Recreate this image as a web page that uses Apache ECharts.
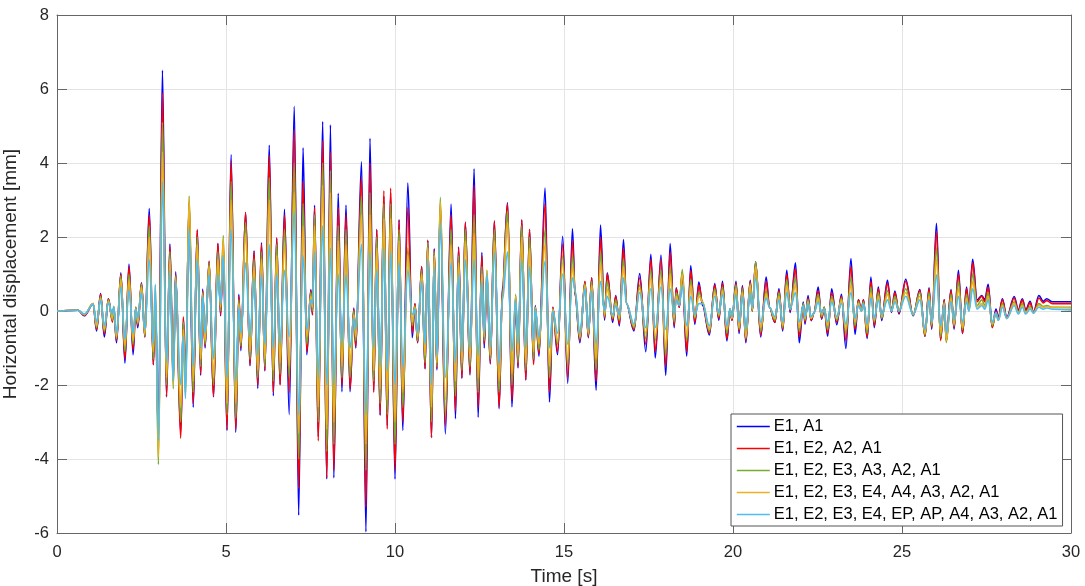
<!DOCTYPE html>
<html>
<head>
<meta charset="utf-8">
<script src="https://cdn.jsdelivr.net/npm/echarts@6/dist/echarts.min.js"></script>
<style>html,body{margin:0;padding:0;background:#fff}#c{width:1085px;height:586px}</style>
</head>
<body>
<div id="c"></div>
<script>
// Times (s) of the turning points
const time = [0.00,0.62,0.81,1.07,1.17,1.29,1.40,1.52,1.64,1.68,1.76,1.89,2.01,2.13,2.25,2.33,2.39,2.50,2.60,2.73,2.85,2.91,3.00,3.12,3.24,3.34,3.44,3.51,3.66,3.74,3.80,3.91,4.03,4.15,4.25,4.31,4.38,4.50,4.63,4.76,4.84,4.92,5.03,5.15,5.29,5.38,5.44,5.58,5.71,5.83,5.94,6.05,6.15,6.28,6.40,6.50,6.60,6.73,6.87,7.02,7.15,7.28,7.39,7.51,7.56,7.62,7.73,7.86,7.98,8.09,8.19,8.32,8.43,8.55,8.67,8.78,8.84,9.01,9.14,9.26,9.37,9.46,9.56,9.67,9.77,9.87,10.00,10.12,10.23,10.38,10.51,10.59,10.67,10.79,10.89,10.97,11.08,11.16,11.24,11.34,11.49,11.66,11.79,11.88,11.98,12.08,12.22,12.34,12.46,12.57,12.64,12.72,12.82,12.94,13.08,13.18,13.33,13.46,13.57,13.64,13.75,13.87,13.98,14.10,14.15,14.26,14.44,14.57,14.67,14.81,14.96,15.11,15.25,15.33,15.47,15.62,15.72,15.82,15.95,16.08,16.20,16.28,16.44,16.53,16.64,16.76,16.85,17.07,17.24,17.42,17.57,17.70,17.87,18.01,18.14,18.26,18.32,18.41,18.50,18.63,18.75,18.87,18.99,19.10,19.30,19.46,19.58,19.69,19.82,19.91,19.97,20.09,20.18,20.28,20.38,20.51,20.57,20.67,20.82,20.98,21.08,21.24,21.36,21.47,21.59,21.69,21.85,21.96,22.08,22.13,22.22,22.31,22.40,22.52,22.62,22.70,22.80,22.92,23.07,23.21,23.34,23.49,23.61,23.71,23.80,23.86,23.97,24.08,24.18,24.30,24.40,24.57,24.69,24.79,24.91,25.11,25.33,25.53,25.68,25.80,25.88,26.02,26.14,26.25,26.31,26.45,26.54,26.67,26.79,26.91,26.98,27.09,27.22,27.36,27.45,27.55,27.67,27.78,27.85,27.97,28.10,28.32,28.44,28.56,28.66,28.79,28.89,29.05,29.18,29.28,29.45,30.00];

// Horizontal displacement [mm] for each model
const dispE1A1 = [0,0.02,-0.13,0.19,-0.54,0.47,-0.70,0.33,-0.25,0.10,-0.86,1.03,-1.41,1.27,-1.18,0.08,-0.45,0.76,-0.70,2.77,-1.45,0.30,-3.40,6.51,-2.32,1.81,-1.80,1.06,-3.30,-0.20,-1.90,2.90,-2.60,2.18,-1.74,0.59,-1.00,1.33,-2.32,1.82,-0.13,1.80,-3.23,4.23,-3.28,0.45,-1.07,2.66,-1.48,1.63,-2.09,1.84,-1.62,4.48,-2.29,1.97,-1.98,2.75,-2.80,5.53,-5.52,4.41,-1.18,0.58,-0.10,2.86,-3.40,5.12,-4.54,5.03,-4.51,3.18,-2.18,2.86,-2.18,0.08,-1.00,4.03,-5.97,4.67,-2.14,2.20,-2.82,3.10,-3.10,3.20,-4.54,2.47,-3.23,3.46,-0.72,0.19,-0.86,1.20,-1.56,1.91,-3.42,1.69,-1.59,2.80,-3.32,2.89,-2.91,1.73,-1.82,2.40,-1.73,3.84,-2.87,1.58,-1.00,0.97,-1.43,2.43,-2.64,0.67,2.93,-2.59,0.33,-1.54,2.46,-1.86,2.20,-1.41,0.15,-1.22,3.32,-2.46,0.10,-1.18,2.02,-1.95,2.22,0.40,-0.86,0.79,-0.72,0.90,-2.14,2.32,-0.25,1.03,-0.31,0.42,-0.40,1.93,0.19,-0.54,1.01,-1.10,1.53,-1.27,1.51,-1.74,1.82,-0.45,0.63,0.10,1.00,-1.22,1.23,-0.36,0.78,0.15,-0.65,0.74,-0.25,0.80,-0.81,0.05,-0.25,0.80,-0.61,0.69,-0.86,0.83,0.00,1.33,-0.70,0.92,0.10,-0.31,0.60,-0.54,1.10,-0.04,1.30,-0.86,0.24,-0.36,0.42,-0.26,-0.05,0.65,-0.22,0.10,-0.68,0.60,-0.37,0.45,-1.01,1.42,-0.63,0.30,0.00,0.30,-0.74,0.92,-0.45,0.65,-0.26,0.83,-0.04,0.54,-0.08,0.86,-0.13,0.58,-0.68,0.63,-0.49,2.37,-0.77,0.30,-0.81,0.58,-0.49,1.10,-0.61,0.65,0.05,1.40,0.30,0.42,0.30,0.72,-0.43,0.05,-0.17,0.33,-0.17,0.39,0.03,0.33,0.03,0.26,-0.04,0.42,0.26,0.33,0.25,0.25];
const dispE2A2 = [0,0.02,-0.12,0.20,-0.50,0.45,-0.62,0.33,-0.30,0.10,-0.80,1.00,-1.30,1.20,-1.05,0.10,-0.40,0.75,-0.70,2.60,-1.45,0.40,-3.50,5.90,-2.30,1.75,-1.90,1.00,-3.44,-0.16,-2.00,2.95,-2.50,2.20,-1.70,0.55,-0.95,1.35,-2.30,1.82,-0.10,1.85,-3.20,4.05,-3.20,0.40,-1.00,2.66,-1.45,1.60,-2.00,1.80,-1.60,4.20,-2.20,1.97,-2.00,2.60,-2.20,4.90,-4.80,3.50,-1.10,0.55,-0.10,2.80,-3.51,4.60,-4.50,4.30,-4.30,2.80,-2.00,2.60,-2.10,0.05,-0.95,3.60,-5.30,4.00,-2.20,2.20,-2.80,3.25,-3.19,3.32,-4.30,2.45,-3.00,2.80,-0.60,0.20,-0.85,1.20,-1.56,1.91,-3.42,1.65,-1.55,2.90,-3.10,2.60,-2.70,1.70,-1.80,2.40,-1.70,3.40,-2.60,1.50,-0.90,1.00,-1.40,2.43,-2.60,0.60,2.90,-2.40,0.40,-1.50,2.46,-1.86,2.20,-1.45,0.10,-1.15,2.90,-2.20,0.10,-1.10,1.80,-1.80,1.90,0.45,-0.80,0.80,-0.70,0.90,-1.90,2.00,-0.20,1.00,-0.25,0.40,-0.35,1.70,0.20,-0.50,0.90,-0.90,1.40,-1.10,1.40,-1.50,1.60,-0.40,0.60,0.10,1.05,-1.10,1.10,-0.30,0.70,0.20,-0.60,0.70,-0.20,0.75,-0.75,0.05,-0.25,0.75,-0.55,0.65,-0.80,0.80,0.00,1.30,-0.65,0.80,0.10,-0.30,0.55,-0.50,1.00,0.00,1.15,-0.70,0.20,-0.30,0.35,-0.25,-0.05,0.55,-0.20,0.10,-0.60,0.50,-0.30,0.40,-0.80,1.20,-0.50,0.30,0.00,0.30,-0.70,0.80,-0.40,0.60,-0.20,0.75,-0.02,0.50,-0.05,0.80,-0.12,0.55,-0.68,0.60,-0.45,2.15,-0.80,0.30,-0.80,0.55,-0.45,1.00,-0.60,0.60,0.05,1.30,0.25,0.40,0.25,0.65,-0.45,0.00,-0.20,0.30,-0.20,0.35,0.00,0.30,0.00,0.22,-0.05,0.35,0.22,0.28,0.20,0.20];
const dispE3A3 = [0,0.02,-0.10,0.20,-0.45,0.40,-0.55,0.30,-0.25,0.12,-0.75,0.95,-1.10,1.00,-0.90,0.10,-0.35,0.72,-0.68,2.30,-1.30,0.50,-4.15,5.10,-2.00,1.60,-2.10,0.95,-3.00,-0.30,-2.20,3.11,-2.20,2.00,-1.50,0.50,-0.90,1.30,-2.00,1.60,0.00,2.04,-2.80,3.50,-2.90,0.30,-0.95,2.40,-1.30,1.40,-1.80,1.60,-1.50,3.60,-1.90,1.80,-1.70,2.20,-1.80,4.00,-4.00,2.90,-0.90,0.50,0.00,2.60,-3.00,4.00,-3.80,3.80,-3.60,2.30,-1.80,2.20,-1.80,0.00,-0.80,3.10,-4.30,3.20,-1.90,2.00,-2.50,2.90,-2.80,2.90,-3.60,2.20,-2.60,1.70,-0.40,0.15,-0.80,1.10,-1.40,1.85,-3.00,1.60,-1.50,3.07,-2.80,2.20,-2.30,1.50,-1.60,2.20,-1.50,2.60,-2.20,1.20,-0.80,1.10,-1.30,2.20,-2.20,0.50,2.70,-2.00,0.45,-1.40,2.30,-1.60,2.00,-1.30,0.10,-1.05,2.20,-1.80,0.05,-0.90,1.50,-1.50,1.50,0.50,-0.75,0.75,-0.65,0.80,-1.60,1.60,-0.15,0.80,-0.20,0.30,-0.25,1.40,0.20,-0.45,0.70,-0.75,1.10,-0.80,1.10,-1.20,1.20,-0.30,0.50,0.15,1.12,-0.80,0.85,-0.20,0.50,0.25,-0.55,0.60,-0.15,0.65,-0.60,0.05,-0.20,0.70,-0.50,0.60,-0.75,0.75,0.00,1.33,-0.55,0.55,0.10,-0.25,0.50,-0.45,0.85,0.05,0.90,-0.55,0.20,-0.25,0.30,-0.20,-0.05,0.45,-0.15,0.10,-0.50,0.40,-0.25,0.35,-0.60,0.90,-0.40,0.25,0.00,0.25,-0.60,0.65,-0.30,0.50,-0.20,0.55,0.00,0.40,0.00,0.60,-0.10,0.50,-0.65,0.50,-0.40,1.70,-0.70,0.25,-0.85,0.45,-0.40,0.80,-0.50,0.45,0.00,1.00,0.15,0.30,0.15,0.50,-0.40,-0.05,-0.25,0.20,-0.20,0.25,-0.05,0.20,-0.05,0.12,-0.05,0.20,0.12,0.15,0.10,0.10];
const dispE4A4 = [0,0.02,-0.10,0.20,-0.40,0.35,-0.50,0.27,-0.20,0.12,-0.70,0.85,-0.95,0.85,-0.80,0.05,-0.30,0.65,-0.62,2.00,-1.10,0.70,-3.95,4.30,-1.80,1.40,-2.00,0.90,-2.60,-0.50,-2.30,3.05,-1.90,1.80,-1.30,0.45,-0.80,1.20,-1.80,1.40,0.10,1.95,-2.50,3.00,-2.50,0.20,-0.85,2.10,-1.10,1.20,-1.60,1.40,-1.30,3.00,-1.60,1.50,-1.40,1.80,-1.50,3.20,-3.30,2.30,-0.70,0.40,0.10,2.30,-2.60,3.40,-3.20,3.20,-3.00,1.90,-1.50,1.80,-1.50,-0.10,-0.70,2.60,-3.60,2.60,-1.60,1.70,-2.10,2.50,-2.40,2.50,-3.00,1.90,-2.20,1.50,-0.30,0.10,-0.70,1.00,-1.20,1.70,-2.60,1.50,-1.40,2.95,-2.40,1.80,-1.90,1.30,-1.40,1.90,-1.30,2.10,-1.80,1.00,-0.70,1.10,-1.20,1.90,-1.90,0.40,2.40,-1.70,0.40,-1.20,2.00,-1.40,1.70,-1.10,0.10,-0.90,1.80,-1.50,0.05,-0.80,1.30,-1.30,1.20,0.50,-0.70,0.70,-0.60,0.70,-1.30,1.30,-0.10,0.60,-0.15,0.20,-0.20,1.20,0.20,-0.40,0.60,-0.60,0.90,-0.70,0.90,-1.00,1.00,-0.20,0.40,0.15,1.00,-0.70,0.70,-0.15,0.40,0.25,-0.50,0.50,-0.10,0.55,-0.50,0.05,-0.20,0.60,-0.45,0.50,-0.70,0.70,0.05,1.20,-0.45,0.45,0.10,-0.20,0.40,-0.40,0.70,0.05,0.70,-0.45,0.15,-0.20,0.25,-0.20,-0.05,0.35,-0.10,0.05,-0.40,0.30,-0.20,0.30,-0.50,0.70,-0.30,0.20,0.00,0.20,-0.50,0.50,-0.25,0.40,-0.15,0.45,0.00,0.30,0.00,0.50,-0.10,0.40,-0.60,0.40,-0.35,1.40,-0.60,0.20,-0.80,0.35,-0.35,0.60,-0.45,0.35,0.00,0.80,0.10,0.20,0.10,0.40,-0.35,-0.05,-0.25,0.15,-0.20,0.20,-0.05,0.15,-0.05,0.08,-0.05,0.15,0.10,0.12,0.10,0.08];
const dispEPAP = [0,0.02,-0.08,0.18,-0.30,0.30,-0.40,0.22,-0.10,0.12,-0.60,0.65,-0.75,0.55,-0.60,0.05,-0.20,0.50,-0.50,1.40,-0.90,0.72,-3.50,3.50,-1.40,1.10,-1.90,0.80,-2.00,-0.70,-2.37,2.20,-1.50,1.40,-1.00,0.40,-0.60,1.00,-1.30,1.00,0.20,1.50,-1.80,2.20,-1.90,0.10,-0.60,1.30,-0.70,0.90,-1.20,1.00,-0.90,1.80,-1.00,1.00,-0.90,1.10,-0.70,2.70,-2.80,1.50,-0.50,0.30,0.20,1.60,-1.80,2.30,-2.00,1.70,-2.00,1.00,-0.90,1.00,-1.00,-0.20,-0.50,1.80,-2.80,1.60,-1.00,1.10,-1.50,1.70,-1.60,1.60,-2.00,1.30,-1.50,1.10,-0.10,0.05,-0.60,0.80,-0.90,1.40,-2.00,1.20,-1.20,2.40,-1.80,1.30,-1.40,1.00,-1.10,1.40,-1.00,1.40,-1.20,0.80,-0.60,1.00,-1.00,1.60,-1.40,0.30,1.60,-1.10,0.30,-0.90,1.40,-1.00,1.20,-0.80,0.05,-0.70,1.35,-1.00,0.00,-0.60,1.00,-0.90,0.90,0.55,-0.60,0.60,-0.50,0.55,-0.90,0.80,0.00,0.40,-0.10,0.15,-0.10,0.90,0.20,-0.35,0.50,-0.45,0.60,-0.45,0.65,-0.50,0.60,-0.10,0.30,0.15,0.70,-0.40,0.40,-0.10,0.20,0.20,-0.40,0.40,-0.05,0.45,-0.40,0.05,-0.15,0.45,-0.30,0.40,-0.50,0.50,0.10,0.90,-0.30,0.35,0.10,-0.15,0.30,-0.30,0.50,0.05,0.50,-0.30,0.15,-0.15,0.20,-0.15,-0.05,0.25,-0.05,0.05,-0.30,0.25,-0.15,0.20,-0.35,0.50,-0.20,0.15,0.00,0.20,-0.35,0.35,-0.20,0.30,-0.10,0.30,0.00,0.25,0.00,0.40,-0.10,0.30,-0.50,0.30,-0.30,0.98,-0.40,0.15,-0.60,0.25,-0.25,0.40,-0.30,0.25,0.00,0.60,0.05,0.15,0.05,0.30,-0.30,-0.05,-0.25,0.10,-0.20,0.15,-0.08,0.10,-0.08,0.05,-0.05,0.10,0.05,0.08,0.05,0.03];

const seriesNames = ['E1, A1','E1, E2, A2, A1','E1, E2, E3, A3, A2, A1','E1, E2, E3, E4, A4, A3, A2, A1','E1, E2, E3, E4, EP, AP, A4, A3, A2, A1'];
const seriesValues = [dispE1A1, dispE2A2, dispE3A3, dispE4A4, dispEPAP];
const colors = ['#0000FF','#FF0000','#77AC30','#EDB120','#4DBEEE'];
const xTicks = [0,5,10,15,20,25,30];
const yTicks = [-6,-4,-2,0,2,4,6,8];

const FONT = '"Liberation Sans", Arial, Helvetica, sans-serif';
const chart = echarts.init(document.getElementById('c'), null, {renderer:'canvas'});
const axisCol = '#666666';
const gridCol = '#e4e4e4';

const series = seriesNames.map((n,k)=>({
  name:n, type:'line', xAxisIndex:0, yAxisIndex:0,
  data: time.map((t,i)=>[t, seriesValues[k][i]]),
  symbol:'none', smooth:0.35, smoothMonotone:'x',
  lineStyle:{color:colors[k], width:1.6}, itemStyle:{color:colors[k]},
  z: 2+k, silent:true
}));

chart.setOption({
  animation:false,
  backgroundColor:'#fff',
  grid:{left:57, right:14, top:15, bottom:53, show:false, containLabel:false, outerBoundsMode:'none'},
  legend:{
    orient:'vertical', left:731, top:414,
    data: seriesNames,
    itemWidth:33, itemHeight:14, itemGap:5,
    padding:[4,5,3,5],
    backgroundColor:'#fff', borderColor:'#555', borderWidth:1, borderRadius:0,
    itemStyle:{opacity:0},
    lineStyle:{width:1.6},
    textStyle:{fontFamily:FONT, fontSize:16.5, color:'#000', padding:[0,0,0,-1]},
    selectedMode:false
  },
  xAxis:[{
    type:'value', min:xTicks[0], max:xTicks[xTicks.length-1], interval:5,
    name:'Time [s]', nameLocation:'middle', nameGap:34,
    nameTextStyle:{fontFamily:FONT, fontSize:19, color:'#262626'},
    axisLine:{show:true, onZero:false, lineStyle:{color:axisCol}},
    axisTick:{show:true, inside:true, length:10, lineStyle:{color:axisCol}},
    axisLabel:{fontFamily:FONT, fontSize:16.5, color:'#262626', margin:11},
    splitLine:{show:true, lineStyle:{color:gridCol}}
  },{
    type:'value', position:'top', min:xTicks[0], max:xTicks[xTicks.length-1], interval:5,
    axisLine:{show:true, onZero:false, lineStyle:{color:axisCol}},
    axisTick:{show:true, inside:true, length:10, lineStyle:{color:axisCol}},
    axisLabel:{show:false}, splitLine:{show:false}
  }],
  yAxis:[{
    type:'value', min:yTicks[0], max:yTicks[yTicks.length-1], interval:2,
    name:'Horizontal displacement [mm]', nameLocation:'middle', nameGap:37, nameRotate:90,
    nameTextStyle:{fontFamily:FONT, fontSize:19, color:'#262626'},
    axisLine:{show:true, onZero:false, lineStyle:{color:axisCol}},
    axisTick:{show:true, inside:true, length:10, lineStyle:{color:axisCol}},
    axisLabel:{fontFamily:FONT, fontSize:16.5, color:'#262626', margin:8},
    splitLine:{show:true, lineStyle:{color:gridCol}}
  },{
    type:'value', position:'right', min:yTicks[0], max:yTicks[yTicks.length-1], interval:2,
    axisLine:{show:true, onZero:false, lineStyle:{color:axisCol}},
    axisTick:{show:true, inside:true, length:10, lineStyle:{color:axisCol}},
    axisLabel:{show:false}, splitLine:{show:false}
  }],
  series: series
});
</script>
</body>
</html>
